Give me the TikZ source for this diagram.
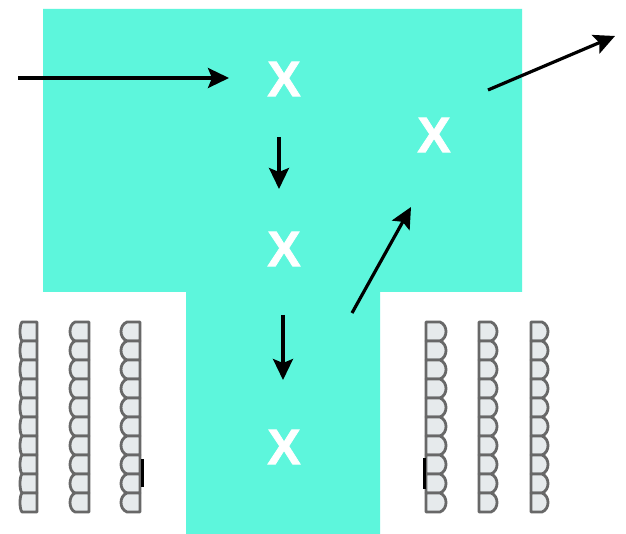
\documentclass[tikz,border=0pt]{standalone}
\usepackage{fontspec}
\setmainfont{Liberation Sans}
\newfontfamily\xfont[FakeBold=1.5]{Liberation Sans Bold}
\usetikzlibrary{arrows.meta}
\definecolor{teal1}{HTML}{5DF6DC}
\definecolor{cellfill}{HTML}{E6EAEC}
\definecolor{celledge}{HTML}{686868}
\tikzset{
  xmark/.style={text=white,font=\xfont\fontsize{50}{50}\selectfont,inner sep=0pt},
  flow/.style={draw=black,line width=3.2pt,-{Stealth[length=21pt,width=20pt,inset=4pt]}},
  cellL/.style={draw=celledge,fill=cellfill,line width=2.8pt,line join=round},
  tick/.style={draw=black,line width=3pt}
}
\begin{document}
\begin{tikzpicture}[x=1pt,y=-1pt]
\useasboundingbox (0,0) rectangle (626,534);
\fill[white] (0,0) rectangle (626,534);
\fill[teal1] (43,9) -- (522,9) -- (522,292) -- (380,292) -- (380,534) -- (186,534) -- (186,292) -- (43,292) -- cycle;
% left stacks: flat on the right, bulging on the left
\foreach \xl/\xr/\bul in {20/37/2,70/89/5,121/140/6}{
  \foreach \i in {0,...,9}{
    \pgfmathsetmacro{\yt}{322+19*\i}
    \pgfmathsetmacro{\yb}{\yt+19}
    \draw[cellL] (\xr,\yt) -- (\xl+\bul,\yt) .. controls (\xl-\bul/3,\yt+3) and (\xl-\bul/3,\yb-3) .. (\xl+\bul,\yb) -- (\xr,\yb) -- cycle;
  }
}
% right stacks: flat on the left, bulging on the right
\foreach \xl/\xr/\bul in {426/446/6,479/497/6,531/548/6}{
  \foreach \i in {0,...,9}{
    \pgfmathsetmacro{\yt}{322+19*\i}
    \pgfmathsetmacro{\yb}{\yt+19}
    \draw[cellL] (\xl,\yt) -- (\xr-\bul,\yt) .. controls (\xr+\bul/3,\yt+3) and (\xr+\bul/3,\yb-3) .. (\xr-\bul,\yb) -- (\xl,\yb) -- cycle;
  }
}
\coordinate (t1) at (142,459);
\coordinate (t2) at (142,487);
\coordinate (t3) at (424,458);
\coordinate (t4) at (424,489);
\draw[tick] (t1) -- (t2);
\draw[tick] (t3) -- (t4);
\node[xmark] (a) at (284,79) {X};
\node[xmark] (b) at (284,249) {X};
\node[xmark] (c) at (284,447) {X};
\node[xmark] (d) at (434,135) {X};
\coordinate (inS) at (18,78);
\coordinate (outE) at (615,36);
\draw[flow] (inS) -- (229,78) coordinate (inE);
\draw[flow] (279,137) coordinate (abS) -- (279,189) coordinate (abE);
\draw[flow] (283,315) coordinate (bcS) -- (283,380) coordinate (bcE);
\draw[flow] (352,313) coordinate (cdS) -- (411,207) coordinate (cdE);
\draw[flow] (488,90) coordinate (outS) -- (outE);
\end{tikzpicture}
\end{document}
